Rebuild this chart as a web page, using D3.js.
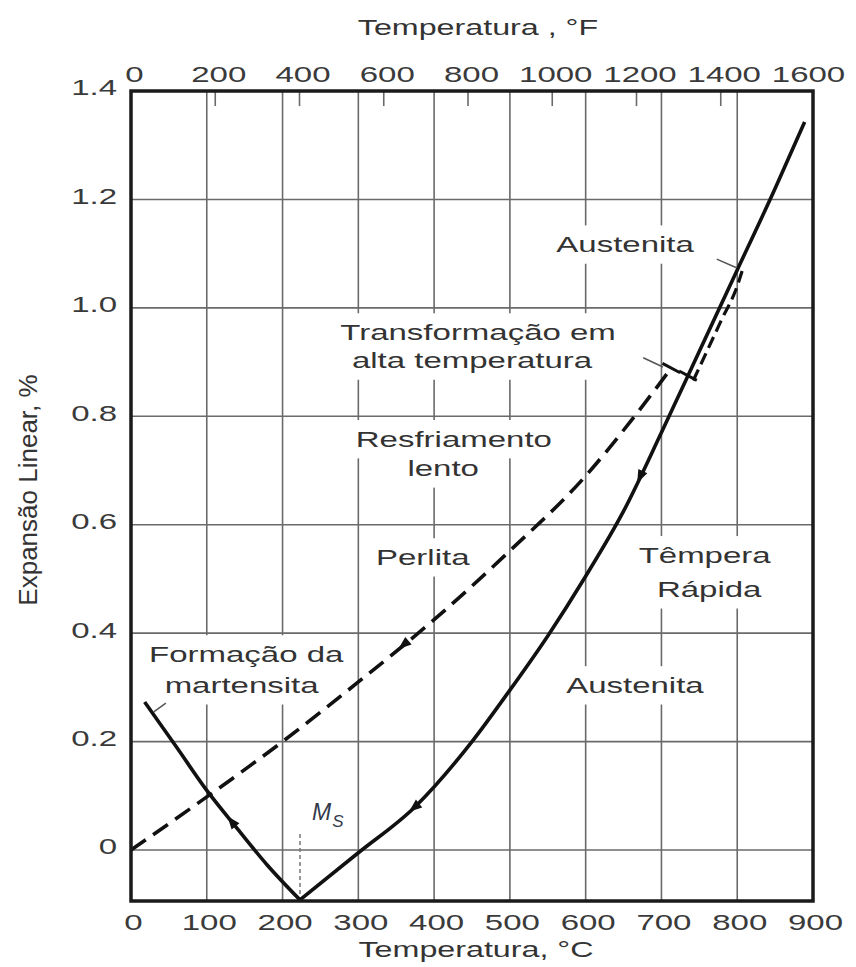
<!DOCTYPE html>
<html><head><meta charset="utf-8">
<script src="https://cdn.jsdelivr.net/npm/d3@7"></script>
<style>body{margin:0;background:#fff}</style>
</head><body>
<svg id="chart" width="856" height="967"></svg>
<script>
// ---------------- DATA ----------------
const tempCTicks = [0,100,200,300,400,500,600,700,800,900];
const tempFTicks = [0,200,400,600,800,1000,1200,1400,1600];
const expTicks = [0,0.2,0.4,0.6,0.8,1.0,1.2,1.4];
const expTickLabels = ["0","0.2","0.4","0.6","0.8","1.0","1.2","1.4"];

// Slow cooling (pearlite), dashed
const slowT = [0,100,200,300,400,500,600,660,713];
const slowV = [0,0.098,0.20,0.31,0.425,0.552,0.69,0.792,0.889];

// Rapid quench (austenite contraction), solid
const quenchT = [223,300,375,450,500,550,600,650,700,750,800,850,889];
const quenchV = [-0.092,-0.005,0.08,0.20,0.295,0.395,0.505,0.625,0.77,0.92,1.07,1.22,1.343];

// Martensite formation below Ms, solid
const martT = [18,60,100,140,180,223];
const martV = [0.273,0.19,0.11,0.04,-0.028,-0.092];

// Austenite branch of the slow curve (dashed, alongside solid)
const austDashT = [742,760,780,800,808];
const austDashV = [0.866,0.92,0.98,1.04,1.075];

// Transformation cross marks
const markT = [713,735];
const markV = [0.889,0.875];

// Ms temperature
const msT = 223;

// Direction arrows
const arrowCurve = ["slow","quench","quench","mart"];
const arrowT = [360,672,374,133];

// ---------------- DRAW ----------------
const svg = d3.select("#chart");
const FONT = "'Liberation Sans', Arial, Helvetica, sans-serif";
const SX = 1.5;

const x = d3.scaleLinear().domain([0,900]).range([131,813]);
const xF = d3.scaleLinear().domain([0,1600]).range([131,805]);
const y = d3.scaleLinear().domain([-0.094,1.4]).range([901,91]);

const gridColor = "#6a6a6a";
const gGrid = svg.append("g");
const gBg = svg.append("g");
const gCurves = svg.append("g");
const gText = svg.append("g");

// gridlines
gGrid.selectAll("line.v").data(tempCTicks.slice(1,-1)).join("line")
  .attr("x1",d=>x(d)).attr("x2",d=>x(d)).attr("y1",y(1.4)).attr("y2",y(-0.094))
  .attr("stroke",gridColor).attr("stroke-width",1.6);
gGrid.selectAll("line.h").data(expTicks.slice(0,-1)).join("line")
  .attr("x1",x(0)).attr("x2",x(900)).attr("y1",d=>y(d)).attr("y2",d=>y(d))
  .attr("stroke",gridColor).attr("stroke-width",1.6);
// short °F ticks from top
gGrid.selectAll("line.f").data(tempFTicks.slice(1,-1)).join("line")
  .attr("x1",d=>xF(d)).attr("x2",d=>xF(d)).attr("y1",y(1.4)).attr("y2",y(1.4)+15)
  .attr("stroke",gridColor).attr("stroke-width",1.6);

// frame
svg.append("rect").attr("x",x(0)).attr("y",y(1.4)).attr("width",x(900)-x(0)).attr("height",y(-0.094)-y(1.4))
  .attr("fill","none").attr("stroke","#1a1a1a").attr("stroke-width",3.5);

// axes
function styleAxisText(sel){
  sel.selectAll("text").attr("font-family",FONT).attr("font-size",22).attr("fill","#3a3a3a");
}
const axB = svg.append("g").attr("transform",`translate(0,${y(-0.094)})`)
  .call(d3.axisBottom(x).tickValues(tempCTicks).tickSize(0).tickFormat(d3.format("d")));
axB.select(".domain").remove();
styleAxisText(axB);
axB.selectAll("text").attr("y",29).attr("dy",0).attr("transform",`scale(${SX},1)`).attr("x",2/SX);

const axT = svg.append("g").attr("transform",`translate(0,${y(1.4)})`)
  .call(d3.axisTop(xF).tickValues(tempFTicks).tickSize(0).tickFormat(d3.format("d")));
axT.select(".domain").remove();
styleAxisText(axT);
axT.selectAll("text").attr("y",-9).attr("dy",0).attr("transform",`scale(${SX},1)`).attr("x",3/SX);

const axL = svg.append("g").attr("transform",`translate(${x(0)},0)`)
  .call(d3.axisLeft(y).tickValues(expTicks).tickSize(0).tickFormat((d,i)=>expTickLabels[i]));
axL.select(".domain").remove();
styleAxisText(axL);
axL.selectAll("text").attr("x",-14/SX).attr("y",-4).attr("dy","0.36em").attr("transform",`scale(${SX},1)`);

// axis titles
function stretchedText(parent, txt, px, py, size, opts={}){
  const g = parent.append("g").attr("transform",`translate(${px},${py})`);
  const t = g.append("text").attr("text-anchor",opts.anchor||"middle")
    .attr("transform",`scale(${opts.sx||SX},1)`)
    .attr("font-family",FONT).attr("font-size",size).attr("fill",opts.fill||"#333")
    .text(txt);
  return {g,t};
}
stretchedText(svg,"Temperatura , °F",478,35,21.5);
stretchedText(svg,"Temperatura, °C",476,957,21.5);
svg.append("text").attr("transform",`translate(37,490) rotate(-90)`)
  .attr("text-anchor","middle").attr("font-family",FONT).attr("font-size",26).attr("fill","#333")
  .text("Expansão Linear, %");

// annotation labels with white background (cut gridlines)
function annot(txt, T, V, padX=6, padY=7){
  const {t} = stretchedText(gText, txt, x(T), y(V), 22);
  const bb = t.node().getBBox();
  gBg.append("rect")
    .attr("x", x(T)+bb.x*SX-padX).attr("y", y(V)+bb.y-padY)
    .attr("width", bb.width*SX+2*padX).attr("height", bb.height+2*padY)
    .attr("fill","#fff");
}
annot("Austenita",652,1.103);
annot("Transformação em",458,0.941);
annot("alta temperatura",450,0.889);
annot("Resfriamento",426,0.744);
annot("lento",412,0.690);
annot("Perlita",385,0.526);
annot("Têmpera",757,0.530);
annot("Rápida",763,0.467);
annot("Austenita",665,0.290);
annot("Formação da",152,0.347);
annot("martensita",146,0.290);

// Ms
gCurves.append("line").attr("x1",x(msT)).attr("x2",x(msT)).attr("y1",y(-0.094)).attr("y2",y(0.035))
  .attr("stroke","#777").attr("stroke-width",1.5).attr("stroke-dasharray","4,3");
const ms = gText.append("text").attr("x",x(msT)+12).attr("y",y(0.055))
  .attr("font-family",FONT).attr("font-size",23).attr("font-style","italic").attr("fill","#333a4a");
ms.append("tspan").text("M");
ms.append("tspan").attr("font-size",17).attr("dy",7).attr("dx",1).text("S");

// curves
const line = d3.line().x(d=>x(d[0])).y(d=>y(d[1])).curve(d3.curveMonotoneX);
const zip = (a,b)=>a.map((v,i)=>[v,b[i]]).sort((p,q)=>p[0]-q[0]);
const series = {
  slow: zip(slowT,slowV),
  quench: zip(quenchT,quenchV),
  mart: zip(martT,martV)
};
gCurves.append("path").attr("d",line(series.slow)).attr("fill","none").attr("stroke","#111")
  .attr("stroke-width",3.6).attr("stroke-dasharray","18,9");
gCurves.append("path").attr("d",line(series.quench)).attr("fill","none").attr("stroke","#111")
  .attr("stroke-width",3.6);
gCurves.append("path").attr("d",line(series.mart)).attr("fill","none").attr("stroke","#111")
  .attr("stroke-width",3.6);
gCurves.append("path").attr("d",line(zip(austDashT,austDashV))).attr("fill","none").attr("stroke","#111")
  .attr("stroke-width",3.2).attr("stroke-dasharray","12,6");

// transformation marks (short bars perpendicular to local curve)
markT.forEach((t,i)=>{
  const px = x(t), py = y(markV[i]);
  const ang = -Math.PI/2.9;
  const nx = Math.cos(ang+Math.PI/2), ny = Math.sin(ang+Math.PI/2);
  gCurves.append("line").attr("x1",px-nx*10).attr("y1",py-ny*10).attr("x2",px+nx*10).attr("y2",py+ny*10)
    .attr("stroke","#111").attr("stroke-width",3);
});

// leader lines
function leader(T1,V1,T2,V2){
  gCurves.append("line").attr("x1",x(T1)).attr("y1",y(V1)).attr("x2",x(T2)).attr("y2",y(V2))
    .attr("stroke","#555").attr("stroke-width",1.5);
}
leader(773,1.090,799,1.074);
leader(676,0.908,702,0.891);
leader(30,0.255,46,0.271);

// arrows (pointing toward decreasing temperature)
arrowCurve.forEach((c,i)=>{
  const pts = series[c];
  const interp = d3.scaleLinear().domain(pts.map(p=>p[0])).range(pts.map(p=>p[1]));
  const t = arrowT[i];
  const p0 = [x(t),y(interp(t))];
  const p1 = [x(t-4),y(interp(t-4))];
  let dx=p1[0]-p0[0], dy=p1[1]-p0[1]; const L=Math.hypot(dx,dy); dx/=L; dy/=L;
  const px=-dy, py=dx;
  const tip=[p0[0]+dx*7,p0[1]+dy*7];
  const b1=[p0[0]-dx*6+px*5,p0[1]-dy*6+py*5];
  const b2=[p0[0]-dx*6-px*5,p0[1]-dy*6-py*5];
  gCurves.append("path").attr("d",`M${tip}L${b1}L${b2}Z`).attr("fill","#111");
});
</script>
</body></html>
